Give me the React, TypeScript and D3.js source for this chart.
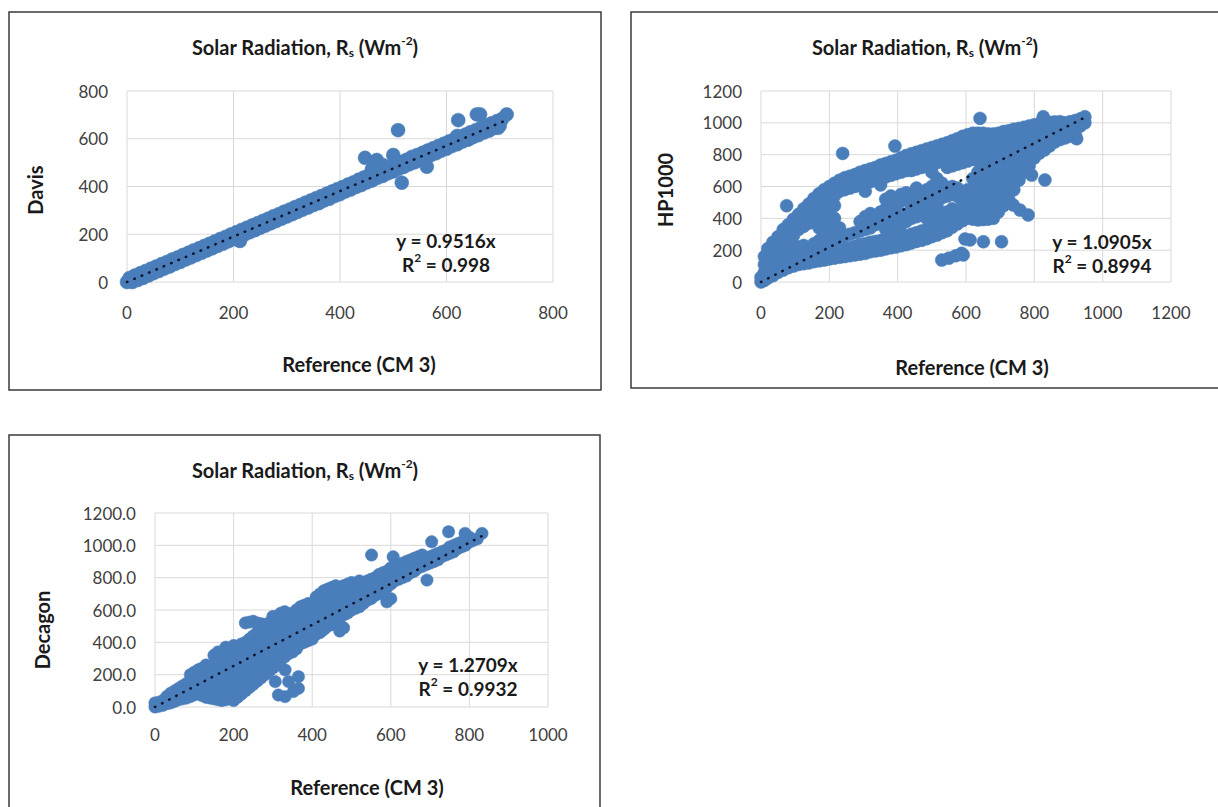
import React from 'react';
import * as d3 from 'd3';

const FONT = "Lato, 'Open Sans', sans-serif";
const MARKER = '#4A7EBB';
const TREND = '#10162e';
const GRID = '#d9d9d9';
const FRAME = '#3a3a3a';

// ---------- Davis vs Reference ----------
const davisPoints: [number, number][] = [
  [0,0],[5,17],[10,0],[15,27],[20,8],[25,37],[30,17],[35,46],[40,27],[45,56],[50,37],[55,65],[60,46],[65,75],
  [70,56],[75,84],[80,65],[85,94],[90,75],[95,103],[100,84],[105,113],[110,94],[115,122],[120,103],[125,132],
  [130,113],[135,141],[140,122],[145,151],[150,132],[155,160],[160,141],[165,170],[170,151],[175,180],[180,160],
  [185,189],[190,170],[195,199],[200,179],[205,208],[210,189],[212,172],[215,218],[220,198],[225,227],[230,208],
  [235,237],[240,217],[245,246],[250,227],[255,256],[260,236],[265,265],[270,246],[275,275],[280,255],[285,284],
  [290,265],[295,294],[300,274],[305,303],[310,284],[315,313],[320,293],[325,322],[330,303],[335,332],[340,312],
  [345,341],[350,322],[355,351],[360,330],[365,360],[370,341],[375,370],[380,349],[385,379],[390,360],[395,389],
  [400,368],[405,398],[410,379],[415,408],[420,387],[425,417],[430,398],[435,428],[440,406],[445,438],[450,417],
  [455,448],[460,425],[465,457],[470,436],[475,468],[480,444],[485,476],[490,455],[495,486],[500,463],[505,495],
  [510,474],[515,503],[520,482],[525,512],[530,493],[535,524],[540,501],[545,532],[550,512],[555,541],[560,520],
  [565,551],[570,531],[575,560],[580,539],[585,570],[590,550],[595,579],[600,558],[605,589],[610,569],[615,598],
  [620,577],[625,608],[630,588],[635,617],[640,596],[645,627],[650,607],[655,636],[660,615],[665,646],[670,626],
  [675,655],[680,634],[685,665],[690,645],[695,674],[700,655],[705,684],
  [447,520],[469,511],[500,532],[509,636],[516,416],[563,483],[622,678],[657,702],[663,702],[713,702],
  [697,646],[644,602],[620,612],[480,490],[460,472]
];
const davisXTicks = [0, 200, 400, 600, 800];
const davisYTicks = [0, 200, 400, 600, 800];

// ---------- HP1000 vs Reference (columns of x with the y values seen) ----------
const hp1000Columns: [number, number[]][] = [
  [0,[0,30]],[10,[10,60,110,160]],[20,[25,75,125,175,210]],[35,[40,90,150,200,250]],
  [50,[60,110,170,230,285]],[65,[75,125,180,240,300,330]],[80,[90,140,200,260,320,360]],
  [95,[100,150,210,290,350,395]],[110,[110,160,220,330,380,425]],[125,[115,170,230,350,410,460]],
  [140,[120,175,370,430,490]],[155,[128,180,240,390,450,510,525]],[170,[133,185,260,340,410,470,530,555]],
  [185,[138,190,280,340,390,430,490,550,580]],[200,[145,195,250,300,370,450,510,560,600]],
  [215,[150,200,260,330,400,480,540,620]],[230,[155,205,280,340,570,610,640]],
  [245,[160,210,290,580,620,655]],[260,[165,215,300,590,630,665]],[275,[170,225,310,600,640,675]],
  [290,[175,235,320,380,610,650,690]],[305,[180,240,330,410,570,620,660,700]],
  [320,[190,250,340,430,630,670,710]],[335,[195,255,360,420,640,680,720]],
  [350,[200,260,370,440,610,655,695,735]],[365,[208,265,330,400,460,520,660,705,745]],
  [380,[215,270,340,410,480,540,670,715,755]],[395,[220,275,350,420,500,680,725,765]],
  [410,[228,285,360,430,510,550,690,740,780]],[425,[235,290,380,520,560,700,750,795]],
  [440,[245,300,400,470,530,700,755,805]],[455,[255,310,410,480,540,590,710,765,815]],
  [470,[262,320,420,500,560,720,775,825]],[485,[272,330,400,460,520,580,730,785,835]],
  [500,[285,340,410,470,540,600,690,740,795,845]],[515,[295,350,420,480,550,600,650,750,805,855]],
  [530,[310,370,530,580,620,760,815,865]],[545,[322,380,440,540,590,720,770,825,875]],
  [560,[345,400,460,550,600,730,780,835,888]],[575,[365,420,540,590,740,790,845,900]],
  [590,[385,440,500,560,750,800,860,915]],[605,[400,460,520,580,760,815,870,925]],
  [620,[395,450,510,570,650,770,830,885,935]],[635,[390,450,510,570,630,690,760,830,890,935]],
  [650,[392,450,520,590,660,730,790,850,900,935]],[665,[395,460,530,600,680,740,800,860,930]],
  [680,[400,460,530,600,670,750,820,880,930]],[695,[440,500,570,640,710,780,840,890,935]],
  [710,[480,540,600,670,740,810,870,945]],[725,[520,580,640,710,780,840,900,950]],
  [740,[580,640,700,770,840,900,960]],[755,[640,700,760,820,880,965]],
  [770,[690,750,810,870,920,972]],[785,[730,790,850,910,980]],[800,[780,830,880,935,988]],
  [815,[810,860,910,960,995]],[830,[830,880,930,980,1000]],[845,[855,900,950,1003]],
  [860,[880,930,975,1006]],[875,[895,945,990,1007]],[890,[905,955,1000]],
  [905,[915,960,1007]],[920,[925,975,1015]],[935,[980,1025]],[948,[1000,1038]]
];
const hp1000Outliers: [number, number][] = [
  [75,479],[239,808],[392,854],[641,1028],[826,1038],[529,138],[550,150],[570,165],[587,180],
  [592,170],[597,270],[612,264],[651,253],[704,253],[738,484],[758,452],[782,421],[792,672],
  [831,641],[924,900],[914,923]
];
const hpXTicks = [0, 200, 400, 600, 800, 1000, 1200];
const hpYTicks = [0, 200, 400, 600, 800, 1000, 1200];

// ---------- Decagon vs Reference ----------
const decagonColumns: [number, number[]][] = [
  [0,[0,25]],[10,[5,30]],[20,[10,40]],[30,[20,45,65]],[40,[25,55,85]],[50,[35,65,100]],
  [60,[45,80,115]],[70,[50,90,130]],[80,[55,100,145]],[90,[65,110,160,200]],[100,[75,125,175,215]],
  [110,[80,140,190,230]],[120,[70,120,160,210,240]],[130,[60,110,170,225,260]],[140,[55,100,150,200,250]],
  [150,[50,90,150,210,260,320]],[160,[45,80,140,200,260,320,340]],[170,[40,90,160,220,280,340]],
  [180,[45,100,160,220,280,340,370]],[190,[50,110,170,230,290,350]],[200,[40,120,180,240,300,360,380]],
  [210,[60,130,190,250,310,370]],[220,[80,150,210,270,330,390]],[230,[100,170,230,290,350,400,520]],
  [240,[120,190,250,310,370,420,525]],[250,[140,200,260,320,380,440,530]],[260,[160,220,280,340,400,460,520]],
  [270,[180,240,300,360,420,480,515]],[280,[200,260,320,380,440,500]],[290,[220,280,340,400,460,520]],
  [300,[240,300,360,420,480,540,560]],[310,[260,320,380,440,500,560]],[320,[290,350,410,470,530,580]],
  [330,[310,370,430,490,550,590]],[340,[330,390,450,510,570]],[350,[340,400,460,520,580]],
  [360,[360,420,480,540,600]],[370,[390,440,500,560,620]],[380,[400,460,520,580,630]],
  [390,[410,470,530,590,640]],[400,[420,480,540,600]],[410,[450,510,570,630,680]],
  [420,[460,520,580,640,700]],[430,[480,540,600,660,720]],[440,[500,560,620,680,730]],
  [450,[510,570,630,690,740]],[460,[530,590,650,710,750]],[470,[470,550,610,670,730]],
  [480,[490,570,630,690,750]],[490,[580,640,700,760]],[500,[600,660,720,770]],[510,[610,670,730]],
  [520,[620,680,740,780]],[530,[640,700,760]],[540,[660,720,780]],[550,[670,730,790]],
  [560,[690,750,800]],[570,[700,760,820]],[580,[720,780,830]],[590,[650,740,790,840]],
  [600,[670,760,810,860]],[610,[780,830,870]],[620,[790,840,880]],[630,[800,850,890]],
  [640,[810,860,900]],[650,[830,870,910]],[660,[840,890,920]],[670,[860,900,930]],
  [680,[870,910,940]],[690,[880,920]],[700,[890,930]],[710,[900,940]],[720,[910,950]],
  [730,[930,960]],[740,[940,970]],[750,[950,990]],[760,[960,1000]],[770,[980,1010]],
  [780,[990,1020]],[790,[1000,1030]],[800,[1020,1050]],[810,[1030]],[820,[1040]]
];
const decagonOutliers: [number, number][] = [
  [832,1074],[789,1074],[747,1084],[704,1022],[606,929],[551,940],[692,785],
  [306,157],[314,74],[331,64],[331,229],[340,157],[352,95],[365,115],[365,188]
];
const decXTicks = [0, 200, 400, 600, 800, 1000];
const decYTicks = [0, 200, 400, 600, 800, 1000, 1200];

const slopes = { davis: 0.9516, hp: 1.0905, dec: 1.2709 };
const r2Labels = { davis: '0.998', hp: '0.8994', dec: '0.9932' };
const yTitles = { davis: 'Davis', hp: 'HP1000', dec: 'Decagon' };
const X_TITLE = 'Reference (CM 3)';

const flatten = (cols: [number, number[]][], extra: [number, number][]) => {
  const out: [number, number][] = [];
  cols.forEach(([x, ys]) => ys.forEach((y) => out.push([x, y])));
  return out.concat(extra);
};

type PanelCfg = {
  frame: { x: number; y: number; w: number; h: number };
  plot: { l: number; r: number; t: number; b: number };
  xMax: number; yMax: number;
  xTicks: number[]; yTicks: number[]; yFmt: (v: number) => string;
  points: [number, number][];
  r: number;
  slope: number; r2: string;
  title: [number, number];
  yTitle: string; yTitlePos: [number, number];
  xTitlePos: [number, number];
  eqPos: [number, number];
  xLabelDy: number;
};

const TICK_FS = 17;
const TITLE_FS = 20;
const EQ_FS = 19;
const INK = '#1a1a1a';

const Panel: React.FC<{ c: PanelCfg }> = ({ c }) => {
  const xs = d3.scaleLinear().domain([0, c.xMax]).range([c.plot.l, c.plot.r]);
  const ys = d3.scaleLinear().domain([0, c.yMax]).range([c.plot.b, c.plot.t]);
  const xEnd = d3.max(c.points, (d) => d[0]) as number;
  const trend = d3.line<number>().x((v) => xs(v)).y((v) => ys(c.slope * v));
  return (
    <g>
      <rect x={c.frame.x} y={c.frame.y} width={c.frame.w} height={c.frame.h} fill="#fff" stroke={FRAME} strokeWidth={1.5} />
      {c.xTicks.map((t) => (
        <line key={'gx' + t} x1={xs(t)} x2={xs(t)} y1={c.plot.t} y2={c.plot.b} stroke={GRID} strokeWidth={1} />
      ))}
      {c.yTicks.map((t) => (
        <line key={'gy' + t} x1={c.plot.l} x2={c.plot.r} y1={ys(t)} y2={ys(t)} stroke={GRID} strokeWidth={1} />
      ))}
      {c.xTicks.map((t) => (
        <text key={'tx' + t} x={xs(t)} y={c.plot.b + c.xLabelDy} textAnchor="middle" dominantBaseline="central"
          fontFamily={FONT} fontSize={TICK_FS} fill="#404040">{t}</text>
      ))}
      {c.yTicks.map((t) => (
        <text key={'ty' + t} x={c.plot.l - 19} y={ys(t)} textAnchor="end" dominantBaseline="central"
          fontFamily={FONT} fontSize={TICK_FS} fill="#404040">{c.yFmt(t)}</text>
      ))}
      <g>
        {c.points.map((p, i) => (
          <circle key={i} cx={xs(p[0])} cy={ys(p[1])} r={c.r} fill={MARKER} stroke={MARKER} strokeWidth={0.5} />
        ))}
      </g>
      <path d={trend([0, xEnd]) || ''} fill="none" stroke={TREND} strokeWidth={2.6}
        strokeDasharray="0.4 7.6" strokeLinecap="round" />
      <text x={c.title[0]} y={c.title[1]} textAnchor="middle" dominantBaseline="central"
        fontFamily={FONT} fontSize={TITLE_FS} fontWeight="bold" fill={INK}>
        Solar Radiation, R<tspan dy={5} fontSize={12}>s</tspan><tspan dy={-5}> (Wm</tspan>
        <tspan dy={-7} fontSize={12}>-2</tspan><tspan dy={7}>)</tspan>
      </text>
      <text transform={`translate(${c.yTitlePos[0]},${c.yTitlePos[1]}) rotate(-90)`} textAnchor="middle"
        dominantBaseline="central" fontFamily={FONT} fontSize={TITLE_FS} fontWeight="bold" fill={INK}>{c.yTitle}</text>
      <text x={c.xTitlePos[0]} y={c.xTitlePos[1]} textAnchor="middle" dominantBaseline="central"
        fontFamily={FONT} fontSize={TITLE_FS} fontWeight="bold" fill={INK}>{X_TITLE}</text>
      <text x={c.eqPos[0]} y={c.eqPos[1]} textAnchor="middle" dominantBaseline="central"
        fontFamily={FONT} fontSize={EQ_FS} fontWeight="bold" fill={INK}>{`y = ${c.slope}x`}</text>
      <text x={c.eqPos[0]} y={c.eqPos[1] + 24} textAnchor="middle" dominantBaseline="central"
        fontFamily={FONT} fontSize={EQ_FS} fontWeight="bold" fill={INK}>
        R<tspan dy={-7} fontSize={12}>2</tspan><tspan dy={7}>{` = ${c.r2}`}</tspan>
      </text>
    </g>
  );
};

const intFmt = d3.format('d');
const oneFmt = d3.format('.1f');

const panels: PanelCfg[] = [
  {
    frame: { x: 9, y: 12, w: 592, h: 378 },
    plot: { l: 127, r: 553, t: 91, b: 282 },
    xMax: 800, yMax: 800, xTicks: davisXTicks, yTicks: davisYTicks, yFmt: intFmt,
    points: davisPoints, r: 7, slope: slopes.davis, r2: r2Labels.davis,
    title: [305, 47], yTitle: yTitles.davis, yTitlePos: [35, 190], xTitlePos: [359, 364],
    eqPos: [446, 240], xLabelDy: 30,
  },
  {
    frame: { x: 631, y: 12, w: 620, h: 376 },
    plot: { l: 761, r: 1171, t: 91, b: 282 },
    xMax: 1200, yMax: 1200, xTicks: hpXTicks, yTicks: hpYTicks, yFmt: intFmt,
    points: flatten(hp1000Columns, hp1000Outliers), r: 6.5, slope: slopes.hp, r2: r2Labels.hp,
    title: [925, 47], yTitle: yTitles.hp, yTitlePos: [665, 190], xTitlePos: [972, 367],
    eqPos: [1102, 241], xLabelDy: 30,
  },
  {
    frame: { x: 9, y: 435, w: 591, h: 390 },
    plot: { l: 155, r: 548, t: 513, b: 707 },
    xMax: 1000, yMax: 1200, xTicks: decXTicks, yTicks: decYTicks, yFmt: oneFmt,
    points: flatten(decagonColumns, decagonOutliers), r: 6.2, slope: slopes.dec, r2: r2Labels.dec,
    title: [305, 470], yTitle: yTitles.dec, yTitlePos: [42, 630], xTitlePos: [367, 787],
    eqPos: [468, 664], xLabelDy: 27,
  },
];

export default function App() {
  return (
    <svg width={1218} height={807} viewBox="0 0 1218 807"
      style={{ position: 'absolute', left: 0, top: 0, background: '#fff', overflow: 'hidden' }}>
      <rect x={0} y={0} width={1218} height={807} fill="#fff" />
      {panels.map((c, i) => <Panel key={i} c={c} />)}
    </svg>
  );
}
